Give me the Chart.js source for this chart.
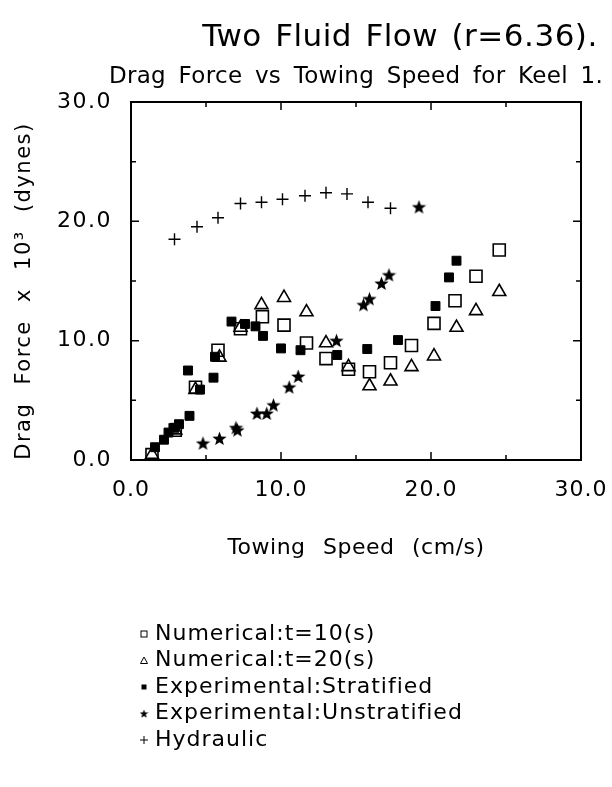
<!DOCTYPE html>
<html>
<head>
<meta charset="utf-8">
<script src="https://cdn.jsdelivr.net/npm/chart.js@4.4.1/dist/chart.umd.min.js"></script>
<style>
  html, body { margin: 0; padding: 0; background: #fff; }
  #wrap { width: 612px; height: 787px; position: relative; }
</style>
</head>
<body>
<div id="wrap"><canvas id="chart" width="612" height="787"></canvas></div>
<script>
// ===== Data =====
const xTicks = [0, 10, 20, 30];
const yTicks = [0, 10, 20, 30];

const numT10X = [1.4, 2.95, 4.3, 5.8, 7.3, 8.76, 10.2, 11.7, 13.0, 14.5, 15.9, 17.3, 18.7, 20.2, 21.6, 23.0, 24.55];
const numT10Y = [0.45, 2.5, 6.1, 9.2, 11.0, 12.0, 11.3, 9.8, 8.5, 7.6, 7.4, 8.15, 9.6, 11.45, 13.35, 15.4, 17.6];

const numT20X = [1.4, 2.95, 4.3, 5.9, 7.3, 8.7, 10.2, 11.7, 13.0, 14.5, 15.9, 17.3, 18.7, 20.2, 21.7, 23.0, 24.55];
const numT20Y = [0.45, 2.5, 5.9, 8.6, 11.1, 13.0, 13.6, 12.4, 9.8, 7.8, 6.2, 6.6, 7.8, 8.7, 11.1, 12.5, 14.1];

const stratX = [1.6, 2.2, 2.5, 2.9, 3.2, 3.9, 3.8, 4.6, 5.5, 5.6, 6.7, 7.6, 8.3, 8.8, 10.0, 11.3, 13.75, 15.75, 17.8, 20.3, 21.2, 21.7];
const stratY = [1.07, 1.7, 2.3, 2.7, 3.0, 3.7, 7.5, 5.9, 6.9, 8.65, 11.6, 11.4, 11.2, 10.4, 9.35, 9.2, 8.8, 9.3, 10.05, 12.9, 15.3, 16.7];

const unstratX = [4.8, 5.9, 7.0, 7.1, 8.4, 9.05, 9.5, 10.55, 11.15, 13.7, 15.5, 15.9, 16.7, 17.2, 19.2];
const unstratY = [1.4, 1.8, 2.7, 2.5, 3.9, 3.9, 4.6, 6.1, 7.0, 10.0, 13.0, 13.5, 14.8, 15.5, 21.2];

const hydX = [2.9, 4.4, 5.8, 7.3, 8.7, 10.1, 11.6, 13.0, 14.4, 15.8, 17.3];
const hydY = [18.5, 19.55, 20.3, 21.5, 21.6, 21.85, 22.15, 22.4, 22.3, 21.6, 21.1];

const legendLabels = [
  'Numerical:t=10(s)',
  'Numerical:t=20(s)',
  'Experimental:Stratified',
  'Experimental:Unstratified',
  'Hydraulic'
];

// ===== Helpers =====
const FONT = '"DejaVu Sans", sans-serif';

function zip(xs, ys) {
  return xs.map((x, i) => ({ x: x, y: ys[i] }));
}

function makeStar(size) {
  const c = document.createElement('canvas');
  c.width = size; c.height = size;
  const g = c.getContext('2d');
  const cx = size / 2, cy = size / 2 + 0.5;
  const ro = size / 2, ri = ro * 0.42;
  g.beginPath();
  for (let i = 0; i < 10; i++) {
    const r = i % 2 === 0 ? ro : ri;
    const a = -Math.PI / 2 + i * Math.PI / 5;
    const px = cx + r * Math.cos(a), py = cy + r * Math.sin(a);
    if (i === 0) g.moveTo(px, py); else g.lineTo(px, py);
  }
  g.closePath();
  g.fillStyle = '#000';
  g.fill();
  return c;
}

// the original plotter font is wide, with roomy gaps between words
function wideText(ctx, text, x, y, letter, word) {
  ctx.letterSpacing = letter + 'px';
  ctx.wordSpacing = word + 'px';
  ctx.fillText(text, x, y);
  ctx.letterSpacing = '0px';
  ctx.wordSpacing = '0px';
}

const starImg = makeStar(15);
const starSmall = makeStar(9);

// frame, inward ticks, tick labels, titles and legend
const decorPlugin = {
  id: 'decor',
  afterDraw(chart) {
    const ctx = chart.ctx;
    const a = chart.chartArea;
    const xs = chart.scales.x, ys = chart.scales.y;
    const midX = (a.left + a.right) / 2;
    ctx.save();
    ctx.strokeStyle = '#000';
    ctx.fillStyle = '#000';

    // frame
    ctx.lineWidth = 2;
    ctx.strokeRect(a.left, a.top, a.right - a.left, a.bottom - a.top);

    // ticks (major every 10, minor every 5)
    ctx.lineWidth = 1.5;
    for (let v = 0; v <= 30; v += 5) {
      const len = v % 10 === 0 ? 8 : 5;
      const px = xs.getPixelForValue(v);
      const py = ys.getPixelForValue(v);
      ctx.beginPath();
      ctx.moveTo(px, a.bottom); ctx.lineTo(px, a.bottom - len);
      ctx.moveTo(px, a.top); ctx.lineTo(px, a.top + len);
      ctx.moveTo(a.left, py); ctx.lineTo(a.left + len, py);
      ctx.moveTo(a.right, py); ctx.lineTo(a.right - len, py);
      ctx.stroke();
    }

    // tick labels
    ctx.font = '22px ' + FONT;
    ctx.textBaseline = 'middle';
    ctx.textAlign = 'center';
    xTicks.forEach(v => wideText(ctx, v.toFixed(1), xs.getPixelForValue(v), a.bottom + 30, 1, 0));
    ctx.textAlign = 'right';
    yTicks.forEach(v => wideText(ctx, v.toFixed(1), a.left - 19, ys.getPixelForValue(v), 1.5, 0));

    // titles
    ctx.textAlign = 'center';
    ctx.font = '31px ' + FONT;
    wideText(ctx, 'Two Fluid Flow (r=6.36).', 400, 38, 0.5, 3);
    ctx.font = '23px ' + FONT;
    wideText(ctx, 'Drag Force vs Towing Speed for Keel 1.', midX, 77, 0.3, 5);
    ctx.font = '22px ' + FONT;
    wideText(ctx, 'Towing Speed (cm/s)', midX, 548, 0.5, 10);

    ctx.save();
    ctx.translate(25, (a.top + a.bottom) / 2 + 10);
    ctx.rotate(-Math.PI / 2);
    ctx.font = '21px ' + FONT;
    wideText(ctx, 'Drag Force x 10\u00B3 (dynes)', 0, 0, 1.5, 10);
    ctx.restore();

    // legend
    ctx.textAlign = 'left';
    ctx.font = '22px ' + FONT;
    const lx = 144, ly0 = 634, step = 26.5;
    legendLabels.forEach((t, i) => {
      const y = ly0 + i * step;
      ctx.lineWidth = 1;
      if (i === 0) {
        ctx.strokeRect(lx - 3, y - 3, 6, 6);
      } else if (i === 1) {
        ctx.beginPath();
        ctx.moveTo(lx, y - 3.5); ctx.lineTo(lx + 3.5, y + 3); ctx.lineTo(lx - 3.5, y + 3);
        ctx.closePath(); ctx.stroke();
      } else if (i === 2) {
        ctx.fillRect(lx - 2.5, y - 2.5, 5, 5);
      } else if (i === 3) {
        ctx.drawImage(starSmall, lx - 4.5, y - 4.5);
      } else {
        ctx.beginPath();
        ctx.moveTo(lx - 4, y); ctx.lineTo(lx + 4, y);
        ctx.moveTo(lx, y - 4); ctx.lineTo(lx, y + 4);
        ctx.stroke();
      }
      wideText(ctx, t, lx + 11, y, 1, 0);
    });
    ctx.restore();
  }
};

// ===== Chart =====
const chart = new Chart(document.getElementById('chart'), {
  type: 'scatter',
  data: {
    datasets: [
      {
        label: legendLabels[0],
        data: zip(numT10X, numT10Y),
        pointStyle: 'rect', pointRadius: 8.5,
        borderColor: '#000', backgroundColor: 'rgba(0,0,0,0)', borderWidth: 1.6
      },
      {
        label: legendLabels[1],
        data: zip(numT20X, numT20Y),
        pointStyle: 'triangle', pointRadius: 7.5,
        borderColor: '#000', backgroundColor: 'rgba(0,0,0,0)', borderWidth: 1.6
      },
      {
        label: legendLabels[2],
        data: zip(stratX, stratY),
        pointStyle: 'rect', pointRadius: 6.3,
        borderColor: '#000', backgroundColor: '#000', borderWidth: 1
      },
      {
        label: legendLabels[3],
        data: zip(unstratX, unstratY),
        pointStyle: starImg
      },
      {
        label: legendLabels[4],
        data: zip(hydX, hydY),
        pointStyle: 'cross', pointRadius: 6,
        borderColor: '#000', borderWidth: 1.4
      }
    ]
  },
  options: {
    responsive: false,
    animation: false,
    events: [],
    layout: { padding: { left: 131, right: 31, top: 102, bottom: 327 } },
    plugins: { legend: { display: false }, tooltip: { enabled: false } },
    scales: {
      x: { type: 'linear', min: 0, max: 30, display: false },
      y: { type: 'linear', min: 0, max: 30, display: false }
    }
  },
  plugins: [decorPlugin]
});
</script>
</body>
</html>
